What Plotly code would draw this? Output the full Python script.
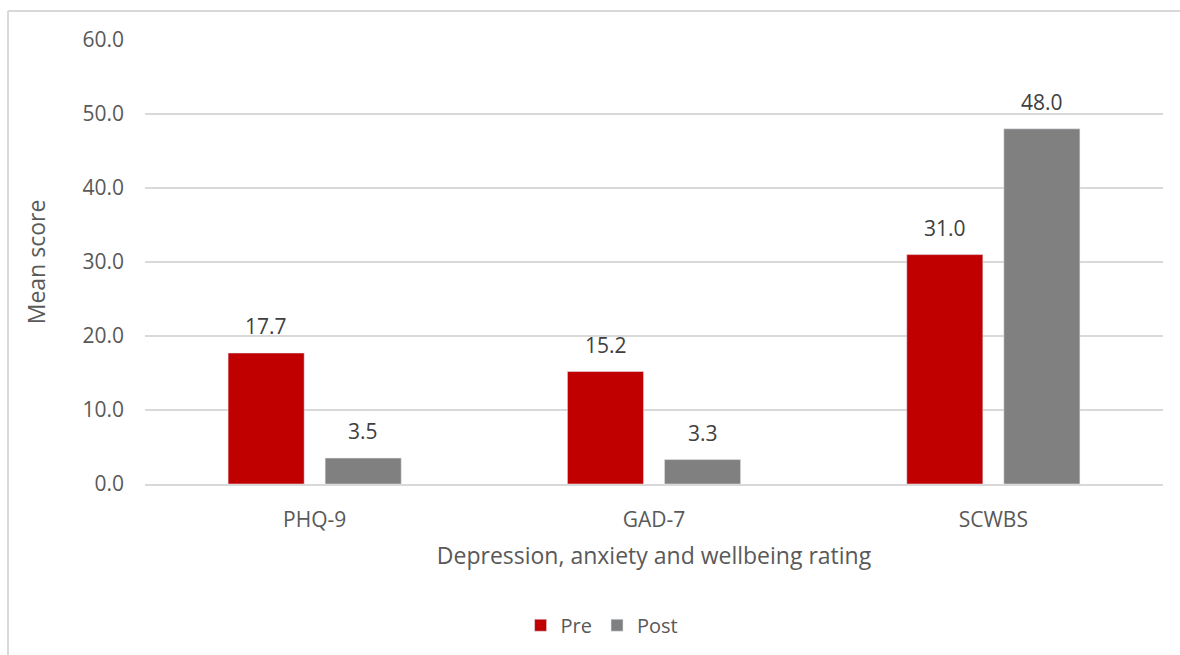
import plotly.graph_objects as go

# Mean scores before and after, per questionnaire
categories = ["PHQ-9", "GAD-7", "SCWBS"]
pre_scores = [17.7, 15.2, 31.0]
post_scores = [3.5, 3.3, 48.0]
y_ticks = [0, 10, 20, 30, 40, 50, 60]

FONT = "'Open Sans', 'Noto Sans', sans-serif"
TEXT = "#595959"
LABEL = "#404040"
GRID = "#d9d9d9"

fig = go.Figure()
fig.add_trace(go.Bar(name="Pre", x=categories, y=pre_scores, marker_color="#C00000"))
fig.add_trace(go.Bar(name="Post", x=categories, y=post_scores, marker_color="#808080"))

# Value labels above each bar (Pre slot left of centre, Post slot right)
for values, shift in ((pre_scores, -48.5), (post_scores, 48.5)):
    for cat, v in zip(categories, values):
        fig.add_annotation(x=cat, y=v, text=f"{v:.1f}", showarrow=False,
                           xshift=shift, yanchor="bottom", yshift=11,
                           font=dict(size=21, color=LABEL, family=FONT))

fig.update_layout(
    width=1180, height=655,
    margin=dict(l=145, r=17, t=40, b=171, autoexpand=False),
    paper_bgcolor="white", plot_bgcolor="white",
    font=dict(family=FONT, size=21, color=TEXT),
    barmode="group", bargap=0.428, bargroupgap=0.216,
    showlegend=True,
    legend=dict(orientation="h", x=0.449, xanchor="center", y=-0.318,
                yanchor="middle", font=dict(size=20, color=TEXT),
                itemwidth=30, traceorder="normal"),
)
fig.update_xaxes(
    showgrid=False, showline=True, linecolor=GRID, linewidth=1.5,
    ticks="", ticklabelstandoff=16, automargin=False,
    tickfont=dict(size=21, color=TEXT),
    title=dict(text="Depression, anxiety and wellbeing rating",
               font=dict(size=23, color=TEXT), standoff=16),
)
fig.update_yaxes(
    range=[0, 60], tickvals=y_ticks, tickformat=".1f",
    showgrid=True, gridcolor=GRID, gridwidth=1.5, zeroline=False,
    showline=False, ticks="", ticklabelstandoff=20, automargin=False,
    tickfont=dict(size=21, color=TEXT),
    title=dict(text="Mean score", font=dict(size=23, color=TEXT), standoff=30),
)

# Outer chart frame (top and left edges)
fig.add_shape(type="line", xref="paper", yref="paper",
              x0=-137/1018, x1=1.02, y0=(484-11)/444, y1=(484-11)/444,
              line=dict(color=GRID, width=2))
fig.add_shape(type="line", xref="paper", yref="paper",
              x0=-137/1018, x1=-137/1018, y0=(484-11)/444, y1=-0.4,
              line=dict(color=GRID, width=2))

fig.write_html("out.html")
